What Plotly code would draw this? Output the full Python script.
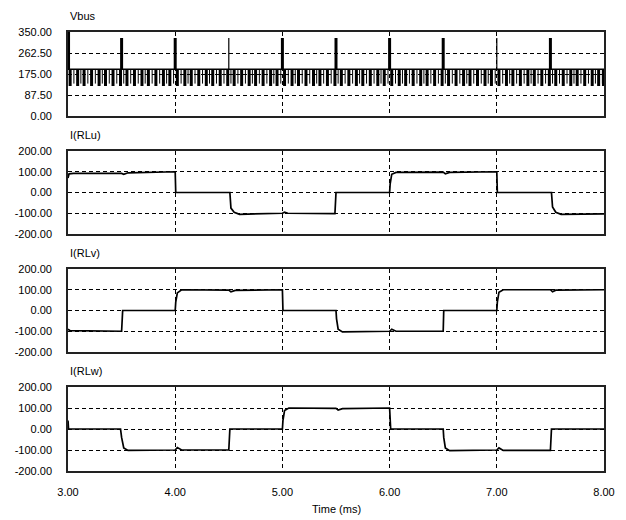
import plotly.graph_objects as go
from plotly.subplots import make_subplots

# ---------------- data ----------------
panel_titles = ["Vbus", "I(RLu)", "I(RLv)", "I(RLw)"]
x_ticks = [3.0, 4.0, 5.0, 6.0, 7.0, 8.0]
vbus_ticks = [0.0, 87.5, 175.0, 262.5, 350.0]
i_ticks = [-200.0, -100.0, 0.0, 100.0, 200.0]

# Vbus: PWM chopping (high level, low level) and pulse instants (ms)
vbus_high = 195.0
vbus_low = 125.0
vbus_mid_low = 135.0
pulse_times = [
    3.02, 3.09, 3.15, 3.22, 3.29, 3.35, 3.42, 3.49, 3.55, 3.62, 3.69, 3.75, 3.82, 3.89, 3.95,
    4.02, 4.09, 4.15, 4.22, 4.29, 4.35, 4.42, 4.49, 4.55, 4.62, 4.69, 4.75, 4.82, 4.89, 4.95,
    5.02, 5.09, 5.15, 5.22, 5.29, 5.35, 5.42, 5.49, 5.55, 5.62, 5.69, 5.75, 5.82, 5.89, 5.95,
    6.02, 6.09, 6.15, 6.22, 6.29, 6.35, 6.42, 6.49, 6.55, 6.62, 6.69, 6.75, 6.82, 6.89, 6.95,
    7.02, 7.09, 7.15, 7.22, 7.29, 7.35, 7.42, 7.49, 7.55, 7.62, 7.69, 7.75, 7.82, 7.89, 7.95, 7.995,
]
thin_pulse_times = [
    3.055, 3.12, 3.185, 3.255, 3.32, 3.385, 3.455, 3.52, 3.585, 3.655, 3.72, 3.785, 3.855, 3.92, 3.985,
    4.055, 4.12, 4.185, 4.255, 4.32, 4.385, 4.455, 4.52, 4.585, 4.655, 4.72, 4.785, 4.855, 4.92, 4.985,
    5.055, 5.12, 5.185, 5.255, 5.32, 5.385, 5.455, 5.52, 5.585, 5.655, 5.72, 5.785, 5.855, 5.92, 5.985,
    6.055, 6.12, 6.185, 6.255, 6.32, 6.385, 6.455, 6.52, 6.585, 6.655, 6.72, 6.785, 6.855, 6.92, 6.985,
    7.055, 7.12, 7.185, 7.255, 7.32, 7.385, 7.455, 7.52, 7.585, 7.655, 7.72, 7.785, 7.855, 7.92, 7.985,
]
major_spike_times = [3.005, 3.50, 4.00, 5.00, 5.50, 6.00, 6.50, 7.50]
major_spike_peaks = [350.0, 325.0, 325.0, 325.0, 325.0, 325.0, 325.0, 325.0]
minor_spike_times = [4.50, 7.00]
minor_spike_peaks = [325.0, 325.0]

# Phase currents
iu_t = [3.00, 3.01, 3.05, 3.50, 3.52, 3.56, 4.00, 4.005, 4.51, 4.52, 4.55, 4.60, 5.00, 5.02, 5.05,
        5.49, 5.50, 6.00, 6.005, 6.02, 6.06, 6.50, 6.52, 6.56, 7.00, 7.005, 7.51, 7.52, 7.55, 7.60, 8.00]
iu_v = [70, 90, 92, 92, 88, 95, 100, 0, 0, -75, -95, -105, -100, -95, -100,
        -102, 0, 0, 40, 88, 97, 98, 90, 97, 100, 0, 0, -70, -95, -105, -103]

iv_t = [3.00, 3.02, 3.50, 3.505, 3.51, 4.00, 4.005, 4.02, 4.06, 4.50, 4.52, 4.56, 5.00, 5.005,
        5.50, 5.505, 5.52, 5.56, 6.00, 6.02, 6.06, 6.50, 6.505, 7.00, 7.005, 7.02, 7.06, 7.50, 7.52, 7.55, 8.00]
iv_v = [-90, -97, -100, -70, 0, 0, 40, 85, 100, 98, 90, 97, 100, 0,
        0, -40, -90, -103, -100, -90, -100, -100, 0, 0, 40, 88, 100, 100, 90, 98, 100]

iw_t = [3.00, 3.005, 3.49, 3.50, 3.52, 3.56, 4.00, 4.02, 4.06, 4.50, 4.51, 5.00, 5.005, 5.02, 5.06,
        5.50, 5.52, 5.56, 6.00, 6.005, 6.01, 6.50, 6.505, 6.52, 6.56, 7.00, 7.02, 7.06, 7.50, 7.51, 8.00]
iw_v = [40, 0, 0, -40, -90, -102, -100, -88, -100, -100, 0, 0, 40, 88, 100,
        98, 90, 97, 100, 60, 0, 0, -40, -90, -103, -100, -90, -102, -102, 0, 0]

# ---------------- figure ----------------
W, H = 626, 520
ml, mr, mt, mb = 68, 11, 32, 49
plot_h = H - mt - mb
panel_px = [(32, 116), (151, 234), (269, 352), (387, 471)]
domains = [[(H - mb - b) / plot_h, (H - mb - t) / plot_h] for t, b in panel_px]

fig = make_subplots(rows=4, cols=1, shared_xaxes=True, vertical_spacing=0.02)

# baseline of bus voltage
fig.add_trace(go.Scatter(x=[3.0, 8.0], y=[vbus_high, vbus_high], mode="lines",
                         line=dict(color="black", width=1.5), hoverinfo="skip"), row=1, col=1)

# thick PWM pulses
px_, py_ = [], []
for t in pulse_times:
    px_ += [t, t, None]
    py_ += [vbus_high, vbus_low, None]
fig.add_trace(go.Scatter(x=px_, y=py_, mode="lines", line=dict(color="black", width=3),
                         hoverinfo="skip"), row=1, col=1)

# thin PWM pulses
tx, ty = [], []
for t in thin_pulse_times:
    tx += [t, t, None]
    ty += [vbus_high, vbus_mid_low, None]
fig.add_trace(go.Scatter(x=tx, y=ty, mode="lines", line=dict(color="black", width=1),
                         hoverinfo="skip"), row=1, col=1)

sx, sy = [], []
for t, p in zip(major_spike_times, major_spike_peaks):
    sx += [t, t, None]
    sy += [vbus_high, p, None]
fig.add_trace(go.Scatter(x=sx, y=sy, mode="lines", line=dict(color="black", width=3),
                         hoverinfo="skip"), row=1, col=1)
mx, my = [], []
for t, p in zip(minor_spike_times, minor_spike_peaks):
    mx += [t, t, None]
    my += [vbus_high, p, None]
fig.add_trace(go.Scatter(x=mx, y=my, mode="lines", line=dict(color="black", width=1.2),
                         hoverinfo="skip"), row=1, col=1)

for r, (tt, vv) in enumerate([(iu_t, iu_v), (iv_t, iv_v), (iw_t, iw_v)], start=2):
    fig.add_trace(go.Scatter(x=tt, y=vv, mode="lines", line=dict(color="black", width=1.7),
                             hoverinfo="skip"), row=r, col=1)

font = dict(family="Liberation Sans, Arial, sans-serif", size=11, color="black")

for i in range(4):
    xa = "xaxis" if i == 0 else f"xaxis{i + 1}"
    ya = "yaxis" if i == 0 else f"yaxis{i + 1}"
    fig.layout[xa].update(
        range=[3.0, 8.0], tickvals=x_ticks, ticktext=[f"{v:.2f}" for v in x_ticks],
        showticklabels=(i == 3), ticks="", showgrid=True, gridcolor="black", griddash="4px,3px",
        gridwidth=1.2, showline=True, mirror=True, linecolor="#222", linewidth=1.6,
        zeroline=False, tickfont=font, ticklabelstandoff=10,
    )
    ticks = vbus_ticks if i == 0 else i_ticks
    rng = [0.0, 350.0] if i == 0 else [-200.0, 200.0]
    fig.layout[ya].update(
        domain=domains[i], range=rng, tickvals=ticks, ticktext=[f"{v:.2f}" for v in ticks],
        ticks="", showgrid=True, gridcolor="black", griddash="4px,3px", gridwidth=1.2,
        showline=True, mirror=True, linecolor="#222", linewidth=1.6, zeroline=False,
        tickfont=font, ticklabelstandoff=12,
    )
    yref = "y domain" if i == 0 else f"y{i + 1} domain"
    fig.add_annotation(text=panel_titles[i], xref="x domain" if i == 0 else f"x{i + 1} domain",
                       yref=yref, x=0, y=1, xanchor="left", yanchor="middle", xshift=0,
                       yshift=16, showarrow=False, font=font)

fig.add_annotation(text="Time (ms)", xref="paper", yref="paper", x=0.5, y=0,
                   xanchor="center", yanchor="middle", yshift=-38, showarrow=False, font=font)

fig.update_layout(width=W, height=H, margin=dict(l=ml, r=mr, t=mt, b=mb),
                  plot_bgcolor="white", paper_bgcolor="white", showlegend=False)

fig.write_html("out.html")
